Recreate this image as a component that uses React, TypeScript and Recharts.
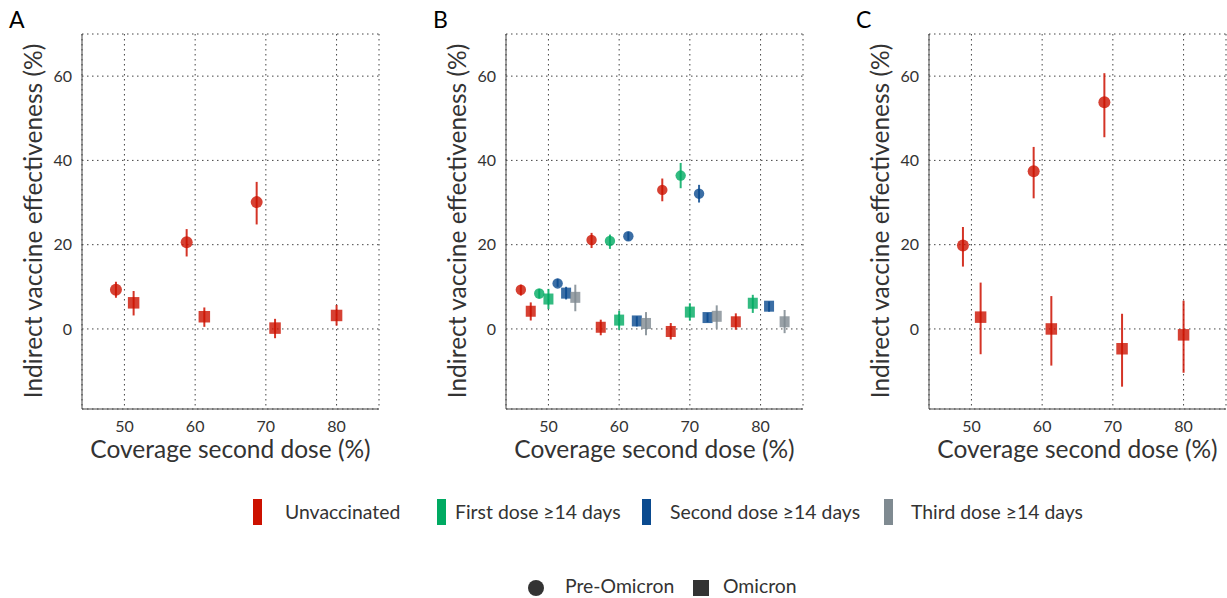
import { ScatterChart, Scatter, XAxis, YAxis, CartesianGrid, ErrorBar } from "recharts";

// each point: [coverage second dose, estimate, lower CI, upper CI]
type Pt = [number, number, number, number];

// Panel A
const aPre: Pt[] = [
  [48.8, 9.3, 7.4, 11.2],
  [58.8, 20.6, 17.2, 23.7],
  [68.7, 30.1, 24.8, 34.9],
];
const aOmi: Pt[] = [
  [51.3, 6.2, 3.2, 9.0],
  [61.3, 2.9, 0.5, 5.1],
  [71.3, 0.2, -2.2, 2.4],
  [80.0, 3.2, 0.8, 5.7],
];

// Panel B
const bUnvPre: Pt[] = [
  [46.1, 9.3, 7.9, 10.5],
  [56.1, 21.1, 19.2, 22.8],
  [66.1, 33.0, 30.3, 35.7],
];
const bFirstPre: Pt[] = [
  [48.7, 8.4, 7.2, 9.5],
  [58.7, 20.9, 19.0, 22.4],
  [68.7, 36.4, 33.4, 39.4],
];
const bSecondPre: Pt[] = [
  [51.3, 10.8, 10.0, 11.9],
  [61.3, 22.0, 21.0, 23.0],
  [71.3, 32.1, 30.0, 34.2],
];
const bUnvOmi: Pt[] = [
  [47.5, 4.2, 2.0, 6.3],
  [57.4, 0.4, -1.5, 2.2],
  [67.3, -0.6, -2.5, 1.4],
  [76.5, 1.7, -0.2, 3.7],
];
const bFirstOmi: Pt[] = [
  [50.0, 7.1, 4.7, 9.5],
  [60.0, 2.1, -0.2, 4.3],
  [70.0, 4.0, 2.0, 6.1],
  [78.9, 6.1, 3.8, 8.1],
];
const bSecondOmi: Pt[] = [
  [52.5, 8.5, 7.0, 10.0],
  [62.5, 1.9, 0.6, 3.0],
  [72.5, 2.7, 1.6, 3.8],
  [81.2, 5.4, 4.1, 6.5],
];
const bThirdOmi: Pt[] = [
  [53.8, 7.5, 4.2, 10.5],
  [63.8, 1.3, -1.5, 4.0],
  [73.8, 3.0, 0.1, 5.6],
  [83.4, 1.7, -1.0, 4.5],
];

// Panel C
const cPre: Pt[] = [
  [48.8, 19.8, 14.8, 24.2],
  [58.8, 37.4, 31.0, 43.2],
  [68.8, 53.8, 45.5, 60.7],
];
const cOmi: Pt[] = [
  [51.3, 2.8, -6.0, 11.0],
  [61.3, 0.0, -8.7, 7.8],
  [71.3, -4.7, -13.7, 3.6],
  [80.0, -1.4, -10.4, 6.7],
];

const xTicks = [50, 60, 70, 80];
const yTicks = [0, 20, 40, 60];
const groups = ["Unvaccinated", "First dose ≥14 days", "Second dose ≥14 days", "Third dose ≥14 days"];
const periods = ["Pre-Omicron", "Omicron"];

const RED = "#cc1100";
const GREEN = "#00aa62";
const BLUE = "#0a4a8f";
const GREY = "#7f8a91";
const groupColors = [RED, GREEN, BLUE, GREY];

const FONT = "Lato, 'Open Sans', sans-serif";
const INK = "#333333";

const toRows = (pts: Pt[]) =>
  pts.map(([x, y, lo, hi]) => ({ x, y, err: [y - lo, hi - y] }));

type Series = { pts: Pt[]; color: string; kind: "circle" | "square" };

function makeShape(kind: "circle" | "square", big: boolean) {
  return (p: any) => {
    if (p.cx == null || p.cy == null) return <g />;
    if (kind === "circle") {
      return <circle cx={p.cx} cy={p.cy} r={big ? 6 : 5.2} fill={p.fill} fillOpacity={0.8} />;
    }
    const w = big ? 11.5 : 10;
    const h = big ? 11.5 : 11;
    return <rect x={p.cx - w / 2} y={p.cy - h / 2} width={w} height={h} fill={p.fill} fillOpacity={0.8} />;
  };
}

function Panel({
  left,
  width,
  letter,
  series,
  big,
}: {
  left: number;
  width: number;
  letter: string;
  series: Series[];
  big: boolean;
}) {
  const rightMargin = width === 400 ? 21 : 1;
  const plotLeft = left + 82;
  const plotRight = left + width - rightMargin;
  const mid = (plotLeft + plotRight) / 2;
  return (
    <>
      <div
        style={{
          position: "absolute",
          left: left + 9,
          top: 8,
          fontFamily: FONT,
          fontSize: 23,
          lineHeight: 1,
          color: "#000",
        }}
      >
        {letter}
      </div>
      <div
        style={{
          position: "absolute",
          left: left + 33 - 200,
          top: 221 - 15,
          width: 400,
          height: 30,
          lineHeight: "30px",
          textAlign: "center",
          transform: "rotate(-90deg)",
          fontFamily: FONT,
          fontSize: 24.5,
          color: INK,
          whiteSpace: "nowrap",
        }}
      >
        Indirect vaccine effectiveness (%)
      </div>
      <div
        style={{
          position: "absolute",
          left: mid - 200,
          top: 437,
          width: 400,
          textAlign: "center",
          fontFamily: FONT,
          fontSize: 24.5,
          lineHeight: 1,
          color: INK,
          whiteSpace: "nowrap",
        }}
      >
        Coverage second dose (%)
      </div>
      <div style={{ position: "absolute", left, top: 0 }}>
        <ScatterChart
          width={width}
          height={470}
          margin={{ top: 34, right: rightMargin, bottom: 21, left: 0 }}
        >
          <CartesianGrid stroke="#444" strokeDasharray="1.5 3.5" strokeWidth={1} />
          <XAxis
            type="number"
            dataKey="x"
            domain={[44, 86]}
            ticks={xTicks}
            allowDataOverflow
            height={40}
            tickSize={0}
            tickMargin={12}
            tickLine={false}
            axisLine={{ stroke: "#444", strokeWidth: 1 }}
            tick={{ fill: INK, fontSize: 16, fontFamily: FONT }}
          />
          <YAxis
            type="number"
            dataKey="y"
            domain={[-19, 70]}
            ticks={yTicks}
            allowDataOverflow
            width={82}
            tickSize={0}
            tickMargin={10}
            tickLine={false}
            axisLine={{ stroke: "#444", strokeWidth: 1 }}
            tick={{ fill: INK, fontSize: 16, fontFamily: FONT }}
          />
          {series.map((s, i) => (
            <Scatter
              key={i}
              data={toRows(s.pts)}
              fill={s.color}
              shape={makeShape(s.kind, big)}
              isAnimationActive={false}
            >
              <ErrorBar
                dataKey="err"
                direction="y"
                width={0}
                stroke={s.color}
                strokeWidth={2}
                strokeOpacity={0.85}
                isAnimationActive={false}
              />
            </Scatter>
          ))}
        </ScatterChart>
      </div>
    </>
  );
}

const legendX = [253, 437, 642, 884];
const legendTextX = [285, 455, 670, 911];

export default function App() {
  return (
    <div
      style={{
        position: "absolute",
        left: 0,
        top: 0,
        width: 1227,
        height: 598,
        background: "#fff",
        overflow: "hidden",
      }}
    >
      <Panel
        left={0}
        width={400}
        letter="A"
        big
        series={[
          { pts: aPre, color: RED, kind: "circle" },
          { pts: aOmi, color: RED, kind: "square" },
        ]}
      />
      <Panel
        left={424}
        width={400}
        letter="B"
        big={false}
        series={[
          { pts: bUnvPre, color: RED, kind: "circle" },
          { pts: bFirstPre, color: GREEN, kind: "circle" },
          { pts: bSecondPre, color: BLUE, kind: "circle" },
          { pts: bUnvOmi, color: RED, kind: "square" },
          { pts: bFirstOmi, color: GREEN, kind: "square" },
          { pts: bSecondOmi, color: BLUE, kind: "square" },
          { pts: bThirdOmi, color: GREY, kind: "square" },
        ]}
      />
      <Panel
        left={847}
        width={380}
        letter="C"
        big
        series={[
          { pts: cPre, color: RED, kind: "circle" },
          { pts: cOmi, color: RED, kind: "square" },
        ]}
      />

      {groups.map((g, i) => (
        <div key={g}>
          <div
            style={{
              position: "absolute",
              left: legendX[i],
              top: 499,
              width: 9,
              height: 26,
              background: groupColors[i],
            }}
          />
          <div
            style={{
              position: "absolute",
              left: legendTextX[i],
              top: 500,
              fontFamily: FONT,
              fontSize: 19.4,
              lineHeight: "24px",
              color: INK,
              whiteSpace: "nowrap",
            }}
          >
            {g}
          </div>
        </div>
      ))}

      <div
        style={{
          position: "absolute",
          left: 528,
          top: 580,
          width: 16,
          height: 16,
          borderRadius: 8,
          background: INK,
        }}
      />
      <div
        style={{
          position: "absolute",
          left: 565,
          top: 575,
          fontFamily: FONT,
          fontSize: 19.4,
          lineHeight: "22px",
          color: INK,
          whiteSpace: "nowrap",
        }}
      >
        {periods[0]}
      </div>
      <div
        style={{
          position: "absolute",
          left: 693,
          top: 580,
          width: 16,
          height: 16,
          background: INK,
        }}
      />
      <div
        style={{
          position: "absolute",
          left: 723,
          top: 575,
          fontFamily: FONT,
          fontSize: 19.4,
          lineHeight: "22px",
          color: INK,
          whiteSpace: "nowrap",
        }}
      >
        {periods[1]}
      </div>
    </div>
  );
}
